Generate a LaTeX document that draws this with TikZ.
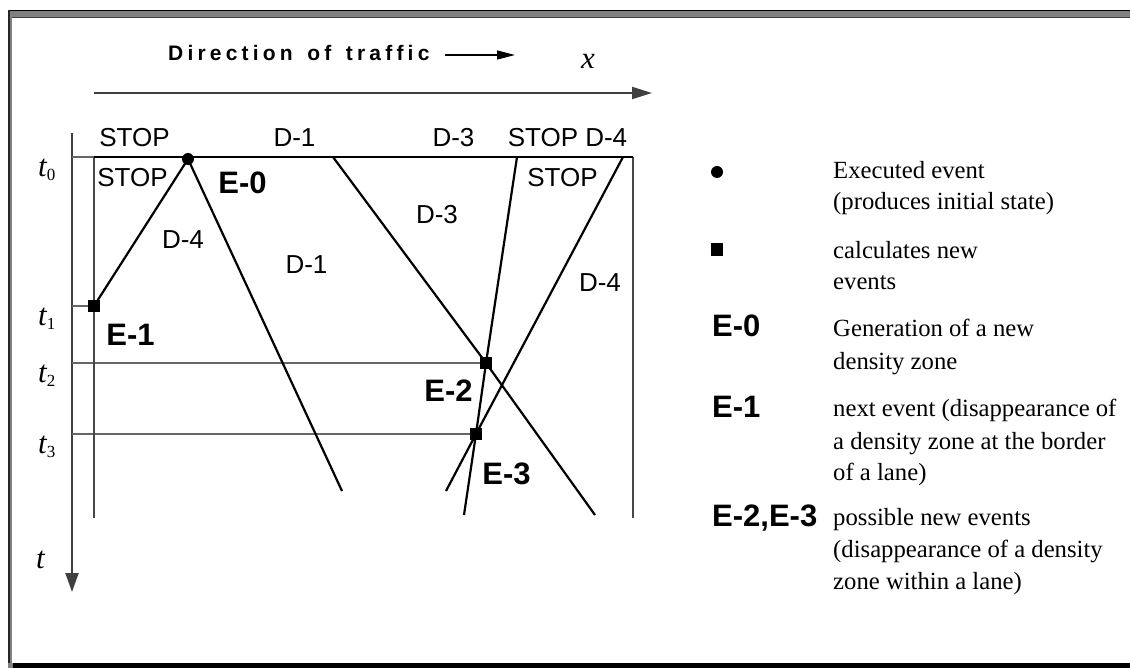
\documentclass[tikz,border=0pt]{standalone}
\usepackage{fontspec}
\usetikzlibrary{arrows.meta}
\newfontfamily\lsans{Liberation Sans}
\newfontfamily\lserif{Liberation Serif}
\newcommand{\tlab}[1]{{\lserif\itshape t}\raisebox{-4pt}{\lserif\fontsize{17}{17}\selectfont #1}}
\begin{document}
\begin{tikzpicture}[x=1pt,y=-1pt,
  zone/.style={font=\lsans\fontsize{26}{30}\selectfont, inner sep=0pt},
  evlab/.style={font=\lsans\bfseries\fontsize{31}{36}\selectfont, inner sep=0pt},
  legtext/.style={font=\lserif\fontsize{24.7}{32}\selectfont, anchor=base west, inner sep=0pt},
  tlabel/.style={font=\lserif\fontsize{31}{34}\selectfont, anchor=base west, inner sep=0pt},
  bound/.style={line width=2.2pt, black},
  lanew/.style={line width=1.6pt, black!72},
  axis/.style={line width=2pt, black!75},
  tickl/.style={line width=1.3pt, black!60},
  dotm/.style={circle, fill=black, inner sep=0pt, minimum size=12pt},
  sqm/.style={rectangle, fill=black, inner sep=0pt, minimum size=12.5pt},
]
\useasboundingbox (0,0) rectangle (1130,668);
% frame
\fill[black] (8,10) rectangle (1130,11);
\fill[black!50] (8,11) rectangle (1130,17);
\fill[black!75] (11,17) rectangle (1130,18.5);
\fill[black!85] (8,10) rectangle (10,668);
\fill[black!50] (10,17) rectangle (11.5,663);
\fill[black] (11,663) rectangle (1130,668);
\fill[black!50] (8,663) rectangle (13,668);

% coordinates
\coordinate (e0) at (188,159);
\coordinate (e1) at (94,306);
\coordinate (e2) at (486,363);
\coordinate (e3) at (476,434);
\coordinate (tl) at (94,157);
\coordinate (tr) at (633,157);
\coordinate (bl) at (94,518);
\coordinate (br) at (633,518);
\coordinate (a0) at (333,157);
\coordinate (a1) at (517,157);
\coordinate (a2) at (623,157);
\coordinate (b0) at (342,491);
\coordinate (b1) at (595,515);
\coordinate (b2) at (464,515);
\coordinate (b3) at (446,491);
\coordinate (xs) at (94,93);
\coordinate (xe) at (652,93);
\coordinate (ts) at (72,133);
\coordinate (te) at (72,592);
\coordinate (k0) at (72,157);
\coordinate (k1) at (72,306);
\coordinate (k2) at (72,363);
\coordinate (k3) at (72,434);
\coordinate (ds) at (445,55);
\coordinate (de) at (515,55);

% axes
\draw[axis, -{Triangle[length=20pt,width=12pt]}] (xs) -- (xe);
\draw[axis, -{Triangle[length=19pt,width=13pt]}] (ts) -- (te);
\draw[line width=1.3pt, -{Triangle[length=18pt,width=9pt]}] (ds) -- (de);

% ticks
\draw[tickl] (k0) -- (tl);
\draw[tickl] (k1) -- (e1);
\draw[tickl] (k2) -- (e2);
\draw[tickl] (k3) -- (e3);

% lane borders
\draw[lanew] (tl) -- (bl);
\draw[lanew] (tr) -- (br);
\draw[bound] (tl) -- (tr);

% wave boundaries
\draw[bound] (e1) -- (e0) -- (b0);
\draw[bound] (a0) -- (e2) -- (b1);
\draw[bound] (a1) -- (e2) -- (e3) -- (b2);
\draw[bound] (a2) -- (e3) -- (b3);

% markers
\node[dotm] (m0) at (e0) {};
\node[sqm] (m1) at (e1) {};
\node[sqm] (m2) at (e2) {};
\node[sqm] (m3) at (e3) {};

% texts
\node[anchor=base west, inner sep=0pt, font=\lsans\bfseries\fontsize{21}{24}\selectfont\addfontfeature{LetterSpace=20}] (dir) at (168,61) {Direction\hspace{4.5pt} of\hspace{4.5pt} traffic};
\node[inner sep=0pt, font=\lserif\itshape\fontsize{31}{34}\selectfont] (xl) at (588,61) {x};
\node[tlabel] (t0) at (38,177) {\tlab{0}};
\node[tlabel] (t1) at (38,325.5) {\tlab{1}};
\node[tlabel] (t2) at (38,382.5) {\tlab{2}};
\node[tlabel] (t3) at (38,453.5) {\tlab{3}};
\node[tlabel] (tt) at (36,568) {\itshape t};

\node[zone] (z1) at (134.5,137.5) {STOP};
\node[zone] (z2) at (294.5,137.5) {D-1};
\node[zone] (z3) at (453.5,137.5) {D-3};
\node[zone] (z4) at (567.5,137.5) {STOP D-4};
\node[zone] (z5) at (132.5,177.5) {STOP};
\node[zone] (z6) at (562.5,178) {STOP};
\node[zone] (z7) at (437,215) {D-3};
\node[zone] (z8) at (183,240) {D-4};
\node[zone] (z9) at (306.5,264.5) {D-1};
\node[zone] (z10) at (600,283) {D-4};

\node[evlab] (le0) at (242.5,182.5) {E-0};
\node[evlab] (le1) at (130.5,335) {E-1};
\node[evlab] (le2) at (448.5,391) {E-2};
\node[evlab] (le3) at (506.5,473.5) {E-3};

% legend
\node[dotm] (gd) at (717,172) {};
\node[sqm] (gs) at (717,249.5) {};
\node[evlab, anchor=base west] (g0) at (712,337) {E-0};
\node[evlab, anchor=base west] (g1) at (712,417) {E-1};
\node[evlab, anchor=base west] (g2) at (712,526) {E-2,E-3};

\node[legtext] (l1) at (833,178.3) {Executed event};
\node[legtext] (l2) at (833,210) {(produces initial state)};
\node[legtext] (l3) at (833,258.3) {calculates new};
\node[legtext] (l4) at (833,289.3) {events};
\node[legtext] (l5) at (833,336.7) {Generation of a new};
\node[legtext] (l6) at (833,369) {density zone};
\node[legtext] (l7) at (833,416.7) {next event (disappearance of};
\node[legtext] (l8) at (833,449) {a density zone at the border};
\node[legtext] (l9) at (833,480) {of a lane)};
\node[legtext] (l10) at (833,525) {possible new events};
\node[legtext] (l11) at (833,557) {(disappearance of a density};
\node[legtext] (l12) at (833,589) {zone within a lane)};
\end{tikzpicture}
\end{document}
